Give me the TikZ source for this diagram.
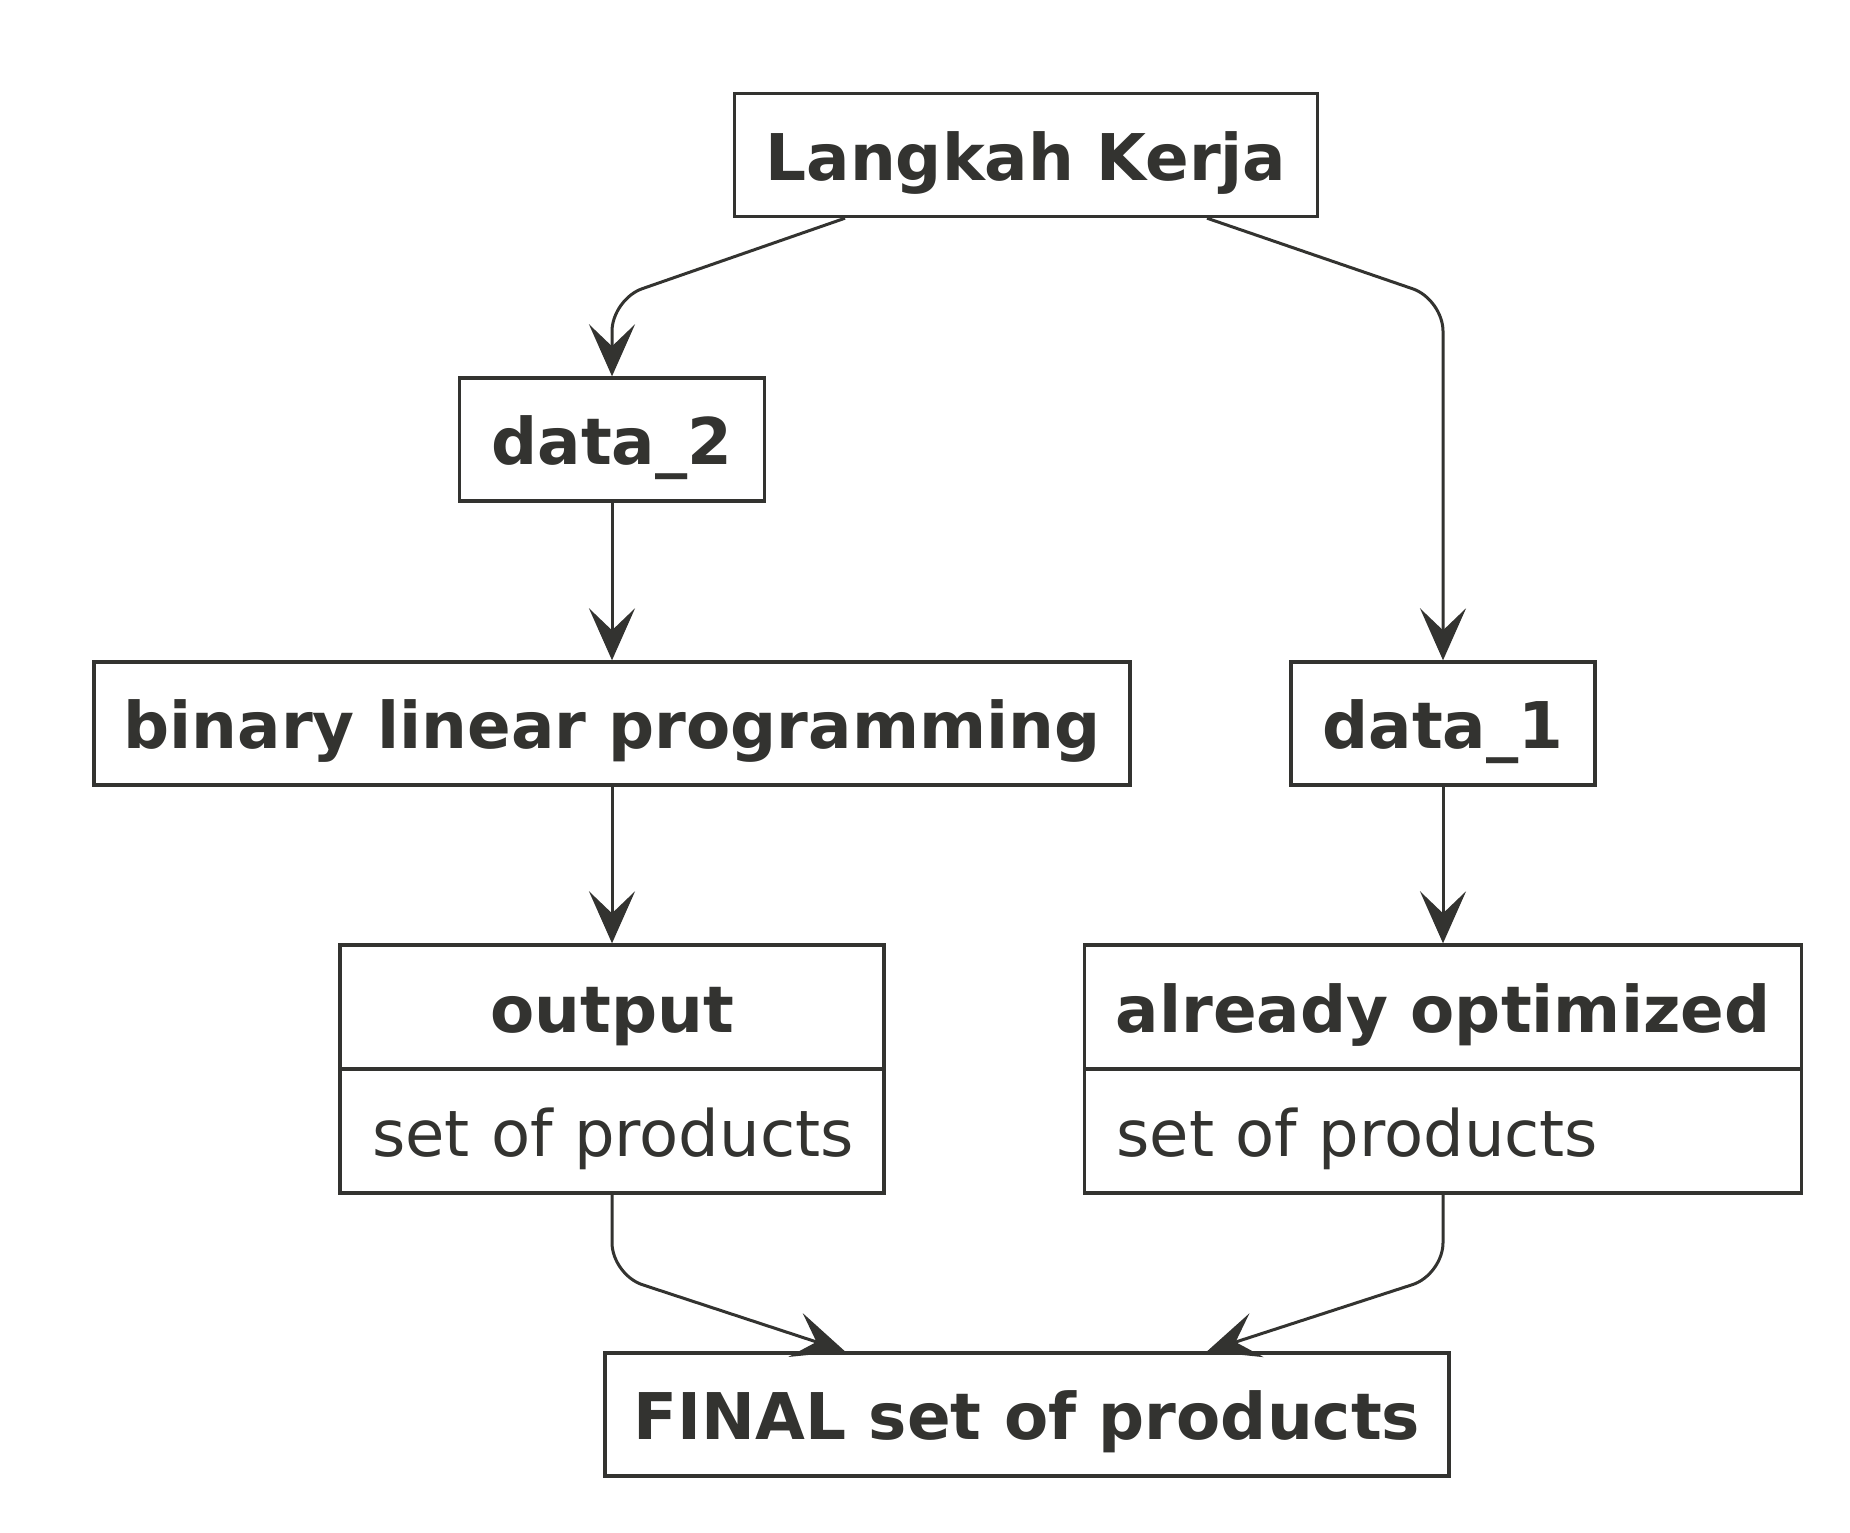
\documentclass[tikz,border=0pt]{standalone}
\usepackage{fontspec}
\setmainfont{DejaVu Sans}
\usetikzlibrary{arrows.meta,calc}
\definecolor{umlgray}{RGB}{51,51,48}

\begin{document}
\begin{tikzpicture}[x=0.5pt,y=-0.5pt,
		box/.style={draw=umlgray, line width=1.7pt, inner sep=0pt, minimum height=61.5pt,
			text height=31pt, text depth=6pt, text=umlgray,
			font=\fontsize{32.2}{38}\selectfont\bfseries},
		boxset/.style={box, font=\fontsize{32}{38}\selectfont, align=left, inner xsep=16pt},
		flow/.style={draw=umlgray, line width=1.5pt, rounded corners=16pt,
			-{Stealth[length=26pt, width=23pt, inset=11pt]}}]
	\useasboundingbox (0,0) rectangle (1850,1532);
	% boxes
	\node[box, minimum width=291.5pt] (langkah) at (1026,155) {Langkah Kerja};
	\node[box, minimum width=152.5pt] (data2) at (612,439.5) {data\_2};
	\node[box, minimum width=518pt] (blp) at (612,723.5) {binary linear programming};
	\node[box, minimum width=152pt] (data1) at (1443,723.5) {data\_1};
	\node[box, minimum width=272pt, minimum height=62pt] (output) at (612,1007) {output};
	\node[boxset, text width=240pt, minimum height=62pt] (outputset) at (612,1131) {\mbox{set of products}};
	\node[box, minimum width=358.5pt, minimum height=62pt] (already) at (1443,1007) {already optimized};
	\node[boxset, text width=326.5pt, minimum height=62pt] (alreadyset) at (1443,1131) {\mbox{set of products}};
	\node[box, minimum width=422pt] (final) at (1027,1414.5) {FINAL set of products};
	% connectors
	\draw[flow] ($(langkah.south)+(-181,0)$) -- ++(-233,81) -- (data2.north);
	\draw[flow] ($(langkah.south)+(181,0)$) -- ++(236,81) -- (data1.north);
	\draw[flow] (data2) -- (blp);
	\draw[flow] (blp) -- (output);
	\draw[flow] (data1) -- (already);
	\draw[flow] (outputset.south) -- ++(0,80) -- ($(final.north)+(-182,0)$);
	\draw[flow] (alreadyset.south) -- ++(0,80) -- ($(final.north)+(180,0)$);
\end{tikzpicture}
\end{document}
